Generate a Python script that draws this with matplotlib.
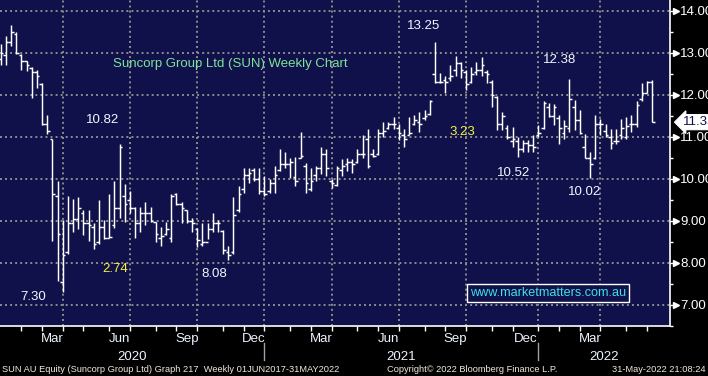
import numpy as np
import pandas as pd
import matplotlib
matplotlib.use("Agg")
import matplotlib.pyplot as plt
import matplotlib.transforms as mtransforms

plt.rcParams['font.family'] = ['Liberation Sans', 'DejaVu Sans']

# ---------------- data (weekly OHLC, week-ending Fridays) ----------------
week_dates = pd.date_range('2020-01-03', periods=127, freq='7D')

opens = [12.85, 12.95, 13.25, 13.45, 12.95, 12.80, 12.65, 12.55, 12.25, 11.30,
         10.95, 9.60, 7.55, 8.25, 8.95, 9.05, 9.20, 8.95, 8.85, 8.50,
         8.85, 8.60, 8.90, 9.30, 9.60, 9.50, 9.30, 8.95, 9.20, 9.20,
         8.98, 8.60, 8.70, 8.60, 9.65, 9.40, 9.25, 9.00, 8.80, 8.45,
         8.50, 8.80, 8.95, 8.75, 8.25, 8.25, 9.25, 9.75, 10.10, 10.20,
         10.00, 9.70, 9.70, 9.90, 10.20, 10.35, 10.35, 10.05, 10.50, 10.30,
         9.75, 10.10, 10.25, 10.60, 9.95, 9.85, 10.20, 10.35, 10.40, 10.40,
         10.60, 10.95, 10.60, 10.60, 11.10, 11.20, 11.30, 11.20, 11.05, 11.05,
         11.30, 11.35, 11.45, 11.55, 12.50, 12.30, 12.35, 12.40, 12.60, 12.75,
         12.55, 12.30, 12.55, 12.60, 12.55, 12.30, 11.95, 11.30, 11.20, 10.90,
         10.90, 10.70, 10.85, 10.80, 11.05, 11.20, 11.70, 11.50, 11.45, 11.10,
         11.20, 11.70, 11.40, 10.75, 10.50, 10.50, 11.30, 11.15, 11.00, 10.90,
         11.05, 11.00, 11.30, 11.30, 11.90, 12.05, 12.30]

highs = [13.20, 13.40, 13.65, 13.50, 12.98, 12.81, 12.67, 12.58, 12.28, 11.51,
         10.96, 9.95, 9.02, 9.60, 9.53, 9.56, 9.26, 9.26, 8.95, 9.49,
         9.02, 9.65, 9.95, 10.82, 9.88, 9.72, 9.33, 9.33, 9.44, 9.33,
         8.98, 8.86, 8.98, 9.65, 9.67, 9.44, 9.26, 9.07, 8.84, 8.95,
         8.95, 9.19, 9.02, 8.79, 8.40, 9.56, 9.84, 10.26, 10.26, 10.26,
         10.26, 10.07, 10.00, 10.30, 10.72, 10.65, 10.49, 10.53, 11.12, 10.37,
         10.26, 10.30, 10.77, 10.72, 10.00, 10.30, 10.47, 10.49, 10.47, 10.70,
         11.05, 11.19, 10.72, 11.19, 11.35, 11.35, 11.47, 11.30, 11.19, 11.47,
         11.53, 11.58, 11.65, 11.88, 13.25, 12.51, 12.44, 12.70, 12.93, 12.79,
         12.58, 12.67, 12.79, 12.91, 12.58, 12.35, 11.98, 11.58, 11.28, 11.23,
         11.00, 10.93, 10.93, 11.05, 11.28, 11.86, 11.81, 11.77, 11.53, 11.40,
         12.38, 11.88, 11.65, 11.07, 10.65, 11.53, 11.42, 11.30, 11.19, 11.19,
         11.42, 11.47, 11.51, 11.86, 12.28, 12.33, 12.35]

lows = [12.70, 12.70, 13.16, 12.98, 12.58, 12.56, 11.93, 12.16, 11.28, 11.07,
        8.52, 7.58, 7.30, 8.21, 8.74, 8.81, 8.67, 8.52, 8.33, 8.44,
        8.56, 8.60, 8.84, 9.07, 8.98, 9.19, 8.60, 8.74, 8.91, 8.98,
        8.51, 8.40, 8.67, 8.51, 9.37, 8.95, 8.95, 8.74, 8.37, 8.40,
        8.56, 8.74, 8.74, 8.21, 8.08, 8.21, 9.21, 9.67, 9.91, 9.95,
        9.65, 9.60, 9.67, 9.67, 10.19, 10.26, 10.02, 9.84, 10.49, 9.67,
        9.72, 9.95, 10.12, 10.07, 9.79, 9.84, 10.07, 10.19, 10.14, 10.37,
        10.49, 10.26, 10.53, 10.58, 11.00, 11.19, 11.19, 10.93, 10.77, 11.05,
        11.28, 11.12, 11.40, 11.53, 12.28, 12.28, 12.05, 12.33, 12.44, 12.40,
        12.12, 12.28, 12.47, 12.44, 12.28, 11.70, 11.16, 11.16, 10.95, 10.77,
        10.52, 10.65, 10.65, 10.65, 11.00, 11.19, 11.47, 11.28, 10.84, 10.95,
        11.12, 11.16, 11.07, 10.49, 10.02, 10.47, 11.05, 11.00, 10.72, 10.84,
        10.95, 10.95, 11.12, 11.23, 11.86, 12.05, 11.35]

closes = [13.00, 13.25, 13.50, 13.00, 12.80, 12.70, 12.55, 12.45, 11.30, 11.15,
          9.65, 8.70, 8.20, 8.95, 9.05, 9.30, 8.95, 8.90, 8.45, 8.85,
          8.60, 8.62, 9.30, 10.75, 9.40, 9.30, 8.95, 9.20, 9.20, 9.00,
          8.70, 8.65, 8.80, 9.60, 9.40, 9.30, 9.00, 8.95, 8.55, 8.50,
          8.80, 8.95, 8.95, 8.30, 8.20, 9.15, 9.65, 10.10, 10.15, 10.00,
          9.70, 9.65, 9.90, 10.10, 10.35, 10.35, 10.40, 9.95, 10.55, 9.90,
          9.95, 10.25, 10.60, 10.25, 9.90, 10.25, 10.30, 10.40, 10.35, 10.60,
          10.60, 10.30, 10.55, 11.10, 11.15, 11.30, 11.30, 11.10, 10.95, 11.10,
          11.40, 11.30, 11.50, 11.85, 12.30, 12.30, 12.30, 12.45, 12.75, 12.60,
          12.25, 12.50, 12.60, 12.70, 12.50, 12.00, 11.30, 11.50, 11.00, 10.95,
          10.70, 10.85, 10.80, 10.75, 11.10, 11.80, 11.50, 11.70, 11.20, 11.25,
          11.90, 11.40, 11.10, 10.50, 10.35, 11.30, 11.30, 11.05, 10.85, 10.90,
          11.20, 11.25, 11.30, 11.75, 12.05, 12.30, 11.35]

# labelled swing points: (bar index, 'high' or 'low')
swing_points = [(84, 'high'), (23, 'high'), (110, 'high'),
                (12, 'low'), (44, 'low'), (100, 'low'), (114, 'low')]

y_ticks = [7, 8, 9, 10, 11, 12, 13, 14]
shown_months = {3: 'Mar', 6: 'Jun', 9: 'Sep', 12: 'Dec'}
title_text = 'Suncorp Group Ltd (SUN) Weekly Chart'
site_text = 'www.marketmatters.com.au'
footer_left = 'SUN AU Equity (Suncorp Group Ltd) Graph 217  Weekly 01JUN2017-31MAY2022'
footer_mid = 'Copyright\u00a9 2022 Bloomberg Finance L.P.'
footer_right = '31-May-2022 21:08:24'

# ---------------- figure ----------------
W, H = 708, 376
fig = plt.figure(figsize=(W / 100, H / 100), dpi=100, facecolor='black')
ax = fig.add_axes([0, 50 / H, 670 / W, 326 / H])
ax.set_facecolor('#10104a')

x = np.arange(len(week_dates))
ax.set_xlim(-0.14, 129.46)
ax.set_ylim(6.674, 14.256)

grid_kw = dict(color='#8c8c8c', lw=1.4, linestyle=(0, (1.0, 1.6)), zorder=1)
for v in y_ticks:
    ax.axhline(v, **grid_kw)

# month boundaries at last bar of each month (Bloomberg style)
months = pd.date_range('2020-02-01', '2022-06-01', freq='MS')
dates_np = week_dates.values
month_end_idx = {}
for m in months:
    idx = int(np.searchsorted(dates_np, np.datetime64(m)) - 1)
    month_end_idx[m] = idx

for m, idx in month_end_idx.items():
    if m.month in (1, 4, 7, 10):
        ax.axvline(idx, **grid_kw)

# OHLC bars
ax.vlines(x, lows, highs, color='white', lw=1.05, zorder=3)
ax.hlines(opens, x - 0.5, x, color='white', lw=1.05, zorder=3)
ax.hlines(closes, x, x + 0.5, color='white', lw=1.05, zorder=3)

# spines
for s in ['left', 'top']:
    ax.spines[s].set_visible(False)
for s in ['right', 'bottom']:
    ax.spines[s].set_color('white')
    ax.spines[s].set_linewidth(1.2)

# y axis on right
ax.yaxis.tick_right()
ax.set_yticks(y_ticks)
ax.set_yticklabels([f'{v:.2f}' for v in y_ticks])
ax.set_yticks([v + 0.5 for v in y_ticks[:-1]] + [6.5 + 0.0], minor=True)
ax.tick_params(axis='y', which='major', colors='white', length=5, width=1.0,
               pad=2.5, labelsize=9.5, direction='out')
ax.tick_params(axis='y', which='minor', colors='white', length=2.5, width=1.0, direction='out')
tr_y = mtransforms.blended_transform_factory(ax.transAxes, ax.transData)
ax.plot([1.0 + 6 / 670] * len(y_ticks), y_ticks, linestyle='none', marker='>',
        markersize=4.5, color='white', transform=tr_y, clip_on=False, zorder=5)

# x ticks (monthly) without labels
ax.set_xticks(list(month_end_idx.values()))
ax.set_xticklabels([])
ax.tick_params(axis='x', colors='white', length=3.5, width=1.0, direction='out')

# month labels centred in month spans
tr_x = mtransforms.blended_transform_factory(ax.transData, fig.transFigure)
prev = None
for m, idx in month_end_idx.items():
    lm = (m - pd.DateOffset(months=1)).month
    if prev is not None and lm in shown_months:
        ax.text((prev + idx) / 2, 1 - 339 / H, shown_months[lm], transform=tr_x,
                ha='center', va='center', color='#eef4ff', fontsize=9.5, clip_on=False)
    prev = idx

# years
year_bounds = [ax.get_xlim()[0]]
for m, idx in month_end_idx.items():
    if m.month == 1:
        year_bounds.append(idx)
year_bounds.append(ax.get_xlim()[1])
for k, yr in enumerate(['2020', '2021', '2022']):
    ax.text((year_bounds[k] + year_bounds[k + 1]) / 2, 1 - 357 / H, yr, transform=tr_x,
            ha='center', va='center', color='#eef4ff', fontsize=9.5, clip_on=False)
for b in year_bounds[1:-1]:
    ax.plot([b, b], [1 - 343 / H, 1 - 360 / H], transform=tr_x, color='#a0a0a0',
            lw=1.0, clip_on=False)

# title
ax.text(113 / 670, 1 - 64 / 326, title_text, transform=ax.transAxes, ha='left',
        va='center', color='#7fe39a', fontsize=9.5)

# annotations of highs / lows (offsets in pixels)
offsets = {84: (-11, 16), 23: (-17, 24), 110: (-10, 19),
           12: (-30, -5), 44: (-14, -14), 100: (-4, -16), 114: (-5, -14)}
swing_vals = {}
for i, kind in swing_points:
    val = highs[i] if kind == 'high' else lows[i]
    swing_vals[i] = val
    dx, dy = offsets[i]
    ax.annotate(f'{val:.2f}', xy=(i, val), xytext=(dx * 0.72, dy * 0.72),
                textcoords='offset points', ha='center', va='center',
                color='#f2f8ff', fontsize=9.5, zorder=6)

# yellow move sizes
ax.text(22.1, 7.86, f'{swing_vals[23] - swing_vals[44]:.2f}', color='#f5f53a',
        fontsize=9.5, ha='center', va='center')
ax.text(89.2, 11.12, f'{swing_vals[84] - swing_vals[114]:.2f}', color='#f5f53a',
        fontsize=9.5, ha='center', va='center')

# watermark
ax.text(548 / 670, 1 - 293 / 326, site_text, transform=ax.transAxes, ha='center',
        va='center', color='#3fe0e8', fontsize=9.1,
        bbox=dict(boxstyle='square,pad=0.2', fc='#10104a', ec='white', lw=1.0))

# last price tag
ax.annotate(f'{closes[-1]:.2f}', xy=(1.0, closes[-1]), xycoords=tr_y,
            xytext=(9, 0), textcoords='offset points', ha='left', va='center',
            color='#10104a', fontsize=9.5, annotation_clip=False,
            bbox=dict(boxstyle='larrow,pad=0.12', fc='white', ec='white', lw=0.8))

# footer
fcol = '#f3e9d8'
fig.text(2 / W, 1 - 370 / H, footer_left, ha='left', va='center', color=fcol, fontsize=6.7)
fig.text(387 / W, 1 - 370 / H, footer_mid, ha='left', va='center', color=fcol, fontsize=6.7)
fig.text(706 / W, 1 - 370 / H, footer_right, ha='right', va='center', color=fcol, fontsize=6.7)

fig.savefig('out.png', dpi=100, facecolor='black')
